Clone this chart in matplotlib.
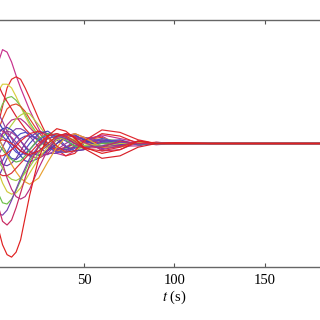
import numpy as np
import matplotlib
matplotlib.use('Agg')
import matplotlib.pyplot as plt

plt.rcParams['font.family'] = ['Liberation Serif', 'DejaVu Serif']
plt.rcParams['mathtext.fontset'] = 'stix'

# sample times (s)
t = [0, 2.5, 5, 7.5, 10, 12.5, 15, 17.5, 20, 25, 30, 35, 40, 45, 50, 60, 70, 80, 90, 100, 120, 200]

# error trajectories (one list per curve)
curves = [
    ('#c8308c', [0.45, 0.65, 0.76, 0.74, 0.66, 0.55, 0.45, 0.36, 0.27, 0.12, 0.0, -0.08, -0.10, -0.06, 0.02, 0.07, 0.04, 0.01, -0.01, 0.0, 0.0, 0.0]),
    ('#e0282a', [0.05, 0.15, 0.30, 0.45, 0.52, 0.54, 0.52, 0.45, 0.37, 0.20, 0.05, -0.05, -0.10, -0.08, 0.0, 0.08, 0.06, 0.0, 0.01, 0.0, 0.0, 0.0]),
    ('#d8d040', [0.30, 0.42, 0.48, 0.48, 0.45, 0.38, 0.30, 0.22, 0.15, 0.05, -0.03, -0.06, -0.05, -0.02, 0.02, 0.03, 0.0, -0.01, 0.0, 0.0, 0.0, 0.0]),
    ('#78c050', [0.10, 0.22, 0.32, 0.37, 0.38, 0.35, 0.30, 0.24, 0.17, 0.06, -0.02, -0.05, -0.04, 0.0, 0.03, 0.01, -0.01, 0.0, 0.0, 0.0, 0.0, 0.0]),
    ('#e04828', [0.0, 0.10, 0.20, 0.28, 0.31, 0.32, 0.30, 0.26, 0.20, 0.09, 0.0, -0.06, -0.07, -0.03, 0.03, 0.05, -0.02, 0.01, 0.0, 0.0, 0.0, 0.0]),
    ('#d82030', [0.55, 0.48, 0.40, 0.34, 0.28, 0.22, 0.17, 0.12, 0.08, 0.02, -0.03, -0.05, -0.03, 0.0, 0.02, 0.0, 0.0, 0.0, 0.0, 0.0, 0.0, 0.0]),
    ('#b83088', [-0.10, -0.02, 0.08, 0.15, 0.19, 0.20, 0.20, 0.17, 0.13, 0.05, -0.03, -0.07, -0.06, -0.02, 0.04, 0.06, -0.02, -0.02, 0.01, 0.0, 0.0, 0.0]),
    ('#b0d040', [-0.05, 0.0, 0.05, 0.10, 0.15, 0.20, 0.23, 0.25, 0.24, 0.15, 0.05, -0.03, -0.07, -0.06, -0.02, 0.04, 0.02, -0.01, 0.0, 0.0, 0.0, 0.0]),
    ('#4848c0', [0.10, 0.05, -0.02, -0.08, -0.12, -0.13, -0.10, -0.05, 0.0, 0.08, 0.10, 0.05, -0.02, -0.06, -0.05, 0.02, 0.03, -0.01, 0.0, 0.0, 0.0, 0.0]),
    ('#8040a8', [-0.15, -0.10, -0.03, 0.04, 0.09, 0.12, 0.12, 0.10, 0.06, -0.03, -0.08, -0.08, -0.03, 0.02, 0.05, 0.02, -0.02, 0.0, 0.0, 0.0, 0.0, 0.0]),
    ('#3c44b8', [0.20, 0.18, 0.12, 0.06, 0.0, -0.05, -0.10, -0.14, -0.15, -0.12, -0.05, 0.03, 0.07, 0.07, 0.03, -0.04, -0.02, 0.01, 0.0, 0.0, 0.0, 0.0]),
    ('#7038a0', [-0.05, -0.12, -0.17, -0.18, -0.16, -0.12, -0.06, 0.0, 0.05, 0.10, 0.08, 0.03, -0.03, -0.06, -0.05, 0.02, 0.02, -0.01, 0.0, 0.0, 0.0, 0.0]),
    ('#c03070', [0.15, 0.12, 0.10, 0.08, 0.05, 0.01, -0.03, -0.07, -0.10, -0.12, -0.08, 0.0, 0.06, 0.08, 0.05, -0.06, -0.05, 0.01, 0.0, 0.0, 0.0, 0.0]),
    ('#5050c8', [-0.25, -0.20, -0.14, -0.07, 0.0, 0.05, 0.08, 0.09, 0.08, 0.03, -0.03, -0.07, -0.07, -0.04, 0.0, 0.04, 0.01, -0.01, 0.0, 0.0, 0.0, 0.0]),
    ('#4040b0', [0.02, 0.08, 0.12, 0.13, 0.11, 0.07, 0.02, -0.03, -0.07, -0.10, -0.06, 0.0, 0.05, 0.06, 0.03, -0.03, -0.01, 0.0, 0.0, 0.0, 0.0, 0.0]),
    ('#6a3cb0', [-0.35, -0.28, -0.20, -0.12, -0.05, 0.0, 0.04, 0.06, 0.06, 0.04, 0.0, -0.04, -0.05, -0.03, 0.0, 0.03, 0.0, 0.0, 0.0, 0.0, 0.0, 0.0]),
    ('#5448c8', [0.12, 0.10, 0.06, 0.02, -0.03, -0.07, -0.09, -0.08, -0.05, 0.03, 0.07, 0.06, 0.02, -0.02, -0.03, 0.01, 0.01, 0.0, 0.0, 0.0, 0.0, 0.0]),
    ('#a03898', [-0.02, 0.04, 0.08, 0.10, 0.09, 0.06, 0.02, -0.02, -0.06, -0.09, -0.09, -0.05, 0.0, 0.04, 0.05, 0.0, -0.02, 0.0, 0.0, 0.0, 0.0, 0.0]),
    ('#60b848', [0.05, 0.0, -0.05, -0.10, -0.13, -0.15, -0.14, -0.10, -0.05, 0.04, 0.08, 0.07, 0.03, -0.02, -0.04, 0.0, 0.01, 0.0, 0.0, 0.0, 0.0, 0.0]),
    ('#9040a0', [0.30, 0.25, 0.18, 0.10, 0.04, -0.02, -0.06, -0.09, -0.10, -0.07, -0.02, 0.04, 0.07, 0.05, 0.01, -0.04, 0.0, 0.01, 0.0, 0.0, 0.0, 0.0]),
    ('#e8a030', [0.10, 0.05, -0.02, -0.10, -0.17, -0.23, -0.28, -0.31, -0.33, -0.28, -0.15, -0.03, 0.05, 0.08, 0.05, -0.03, -0.03, 0.01, 0.0, 0.0, 0.0, 0.0]),
    ('#d0c838', [-0.10, -0.22, -0.32, -0.39, -0.41, -0.40, -0.36, -0.30, -0.24, -0.12, -0.03, 0.03, 0.05, 0.03, 0.0, -0.02, 0.0, 0.0, 0.0, 0.0, 0.0, 0.0]),
    ('#6cc048', [-0.25, -0.40, -0.48, -0.49, -0.45, -0.38, -0.30, -0.22, -0.14, -0.03, 0.04, 0.06, 0.04, 0.01, -0.02, -0.02, 0.01, 0.0, 0.0, 0.0, 0.0, 0.0]),
    ('#9ccc44', [-0.05, -0.12, -0.20, -0.26, -0.29, -0.30, -0.28, -0.24, -0.19, -0.08, 0.0, 0.05, 0.05, 0.02, -0.02, -0.02, 0.01, 0.0, 0.0, 0.0, 0.0, 0.0]),
    ('#7840b0', [-0.50, -0.57, -0.58, -0.54, -0.46, -0.37, -0.28, -0.20, -0.12, -0.02, 0.04, 0.06, 0.04, 0.0, -0.03, -0.02, 0.01, 0.0, 0.0, 0.0, 0.0, 0.0]),
    ('#c82860', [-0.30, -0.50, -0.63, -0.66, -0.62, -0.52, -0.40, -0.28, -0.17, -0.02, 0.06, 0.08, 0.05, 0.0, -0.04, -0.03, 0.02, 0.0, 0.0, 0.0, 0.0, 0.0]),
    ('#b82c80', [0.05, -0.05, -0.16, -0.28, -0.37, -0.43, -0.45, -0.43, -0.37, -0.20, -0.05, 0.05, 0.08, 0.06, 0.01, -0.05, -0.02, 0.02, 0.0, 0.0, 0.0, 0.0]),
    ('#d83038', [-0.20, -0.24, -0.26, -0.26, -0.24, -0.20, -0.16, -0.12, -0.08, 0.0, 0.06, 0.08, 0.06, 0.02, -0.04, -0.06, -0.03, 0.02, 0.0, 0.0, 0.0, 0.0]),
    ('#e02830', [-0.08, -0.10, -0.10, -0.08, -0.05, -0.02, 0.02, 0.05, 0.08, 0.10, 0.06, -0.02, -0.07, -0.06, 0.02, 0.11, 0.09, 0.03, 0.0, 0.005, 0.0, 0.0]),
    ('#d82028', [0.0, 0.02, 0.03, 0.02, 0.0, -0.03, -0.06, -0.08, -0.09, -0.06, 0.0, 0.06, 0.08, 0.05, -0.04, -0.12, -0.10, -0.03, 0.0, 0.005, 0.0, 0.0]),
    ('#e02020', [-0.50, -0.68, -0.82, -0.90, -0.92, -0.88, -0.78, -0.60, -0.42, -0.12, 0.06, 0.12, 0.10, 0.04, -0.03, -0.08, -0.05, 0.02, 0.0, 0.0, 0.0, 0.0]),
]

fig = plt.figure(figsize=(3.2, 3.2), dpi=100)
ax = fig.add_axes([-6.5 / 320, 53 / 320, 361.5 / 320, 247 / 320])

for color, y in curves:
    ax.plot(t, y, color=color, lw=0.85)

ax.set_xlim(0, 200)
ax.set_ylim(-1, 1)
ax.set_xticks([50, 100, 150])
ax.set_yticks([])
ax.tick_params(axis='x', direction='in', top=True, length=3, width=0.8,
               color='#555555', labelsize=10.5, pad=5)
for s in ax.spines.values():
    s.set_color('#666666')
    s.set_linewidth(1.0)
ax.set_xlabel('$t$ (s)', fontsize=10.5, labelpad=1)

fig.savefig('out.png', dpi=100)
